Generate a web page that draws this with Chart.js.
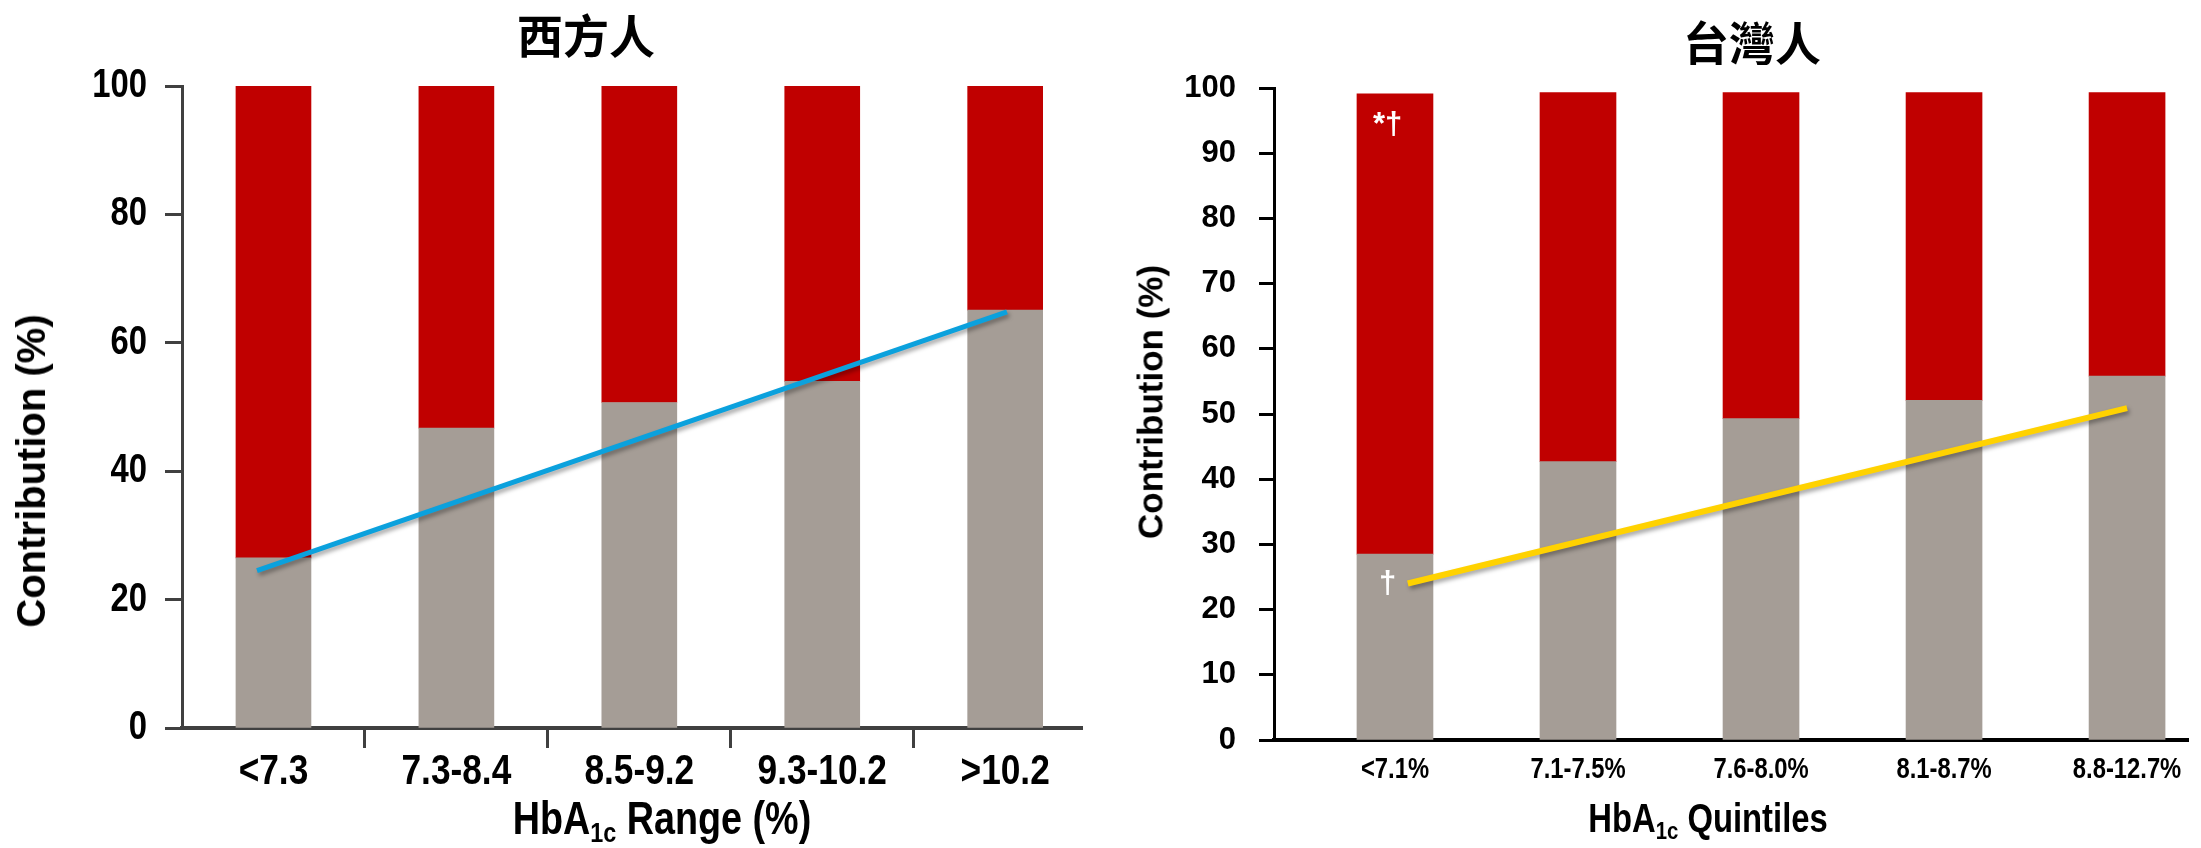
<!DOCTYPE html>
<html>
<head>
<meta charset="utf-8">
<script src="https://cdn.jsdelivr.net/npm/chart.js@4.4.0/dist/chart.umd.min.js"></script>
<style>
html,body{margin:0;padding:0;background:#fff;width:2201px;height:848px;overflow:hidden;}
#wrap{position:relative;width:2201px;height:848px;background:#fff;}
canvas{position:absolute;top:0;}
.t{position:absolute;white-space:nowrap;color:#000;transform:translate(-50%,-50%);line-height:1;}
.cjk{font-family:'Noto Sans CJK TC','Noto Sans CJK SC',sans-serif;font-weight:700;font-size:46px;}
.yt{font-family:'Liberation Sans',Arial,sans-serif;font-weight:700;transform:translate(-50%,-50%) rotate(-90deg);}
.xt{font-family:'Liberation Sans',Arial,sans-serif;font-weight:700;transform:translate(-50%,-50%) scaleX(0.82);}
.xt sub{font-size:0.62em;vertical-align:-0.28em;line-height:0;}
</style>
</head>
<body>
<div id="wrap">
  <canvas id="westChart" width="1100" height="848" style="left:0px"></canvas>
  <canvas id="twChart" width="1101" height="848" style="left:1100px"></canvas>
  <div class="t cjk" style="left:586px;top:33px">西方人</div>
  <div class="t cjk" style="left:1752px;top:40px">台灣人</div>
  <div class="t yt" style="left:31px;top:471px;font-size:40px">Contribution (%)</div>
  <div class="t yt" style="left:1150px;top:402px;font-size:35px">Contribution (%)</div>
  <div class="t xt" style="left:662px;top:818px;font-size:46px">HbA<sub>1c</sub> Range (%)</div>
  <div class="t xt" style="left:1708px;top:818px;font-size:40px">HbA<sub>1c</sub> Quintiles</div>
</div>
<script>
// ---------- data ----------
const westCategories = ['<7.3', '7.3-8.4', '8.5-9.2', '9.3-10.2', '>10.2'];
const westFasting = [26.5, 46.7, 50.7, 54.0, 65.1];        // grey segment
const westPostprandial = [73.5, 53.3, 49.3, 46.0, 34.9];   // red segment
const westTrendX = [-0.09, 4.01];
const westTrendY = [24.5, 64.8];
const westYTicks = [0, 20, 40, 60, 80, 100];

const twCategories = ['<7.1%', '7.1-7.5%', '7.6-8.0%', '8.1-8.7%', '8.8-12.7%'];
const twFasting = [28.5, 42.7, 49.3, 52.1, 55.8];
const twPostprandial = [70.6, 56.6, 50.0, 47.2, 43.5];
const twTrendX = [0.07, 4.0];
const twTrendY = [24.0, 50.9];
const twYTicks = [0, 10, 20, 30, 40, 50, 60, 70, 80, 90, 100];
const twMarkText = ['*\u2020', '\u2020'];
const twMarkX = [-0.04, -0.04];
const twMarkY = [94.3, 23.9];

// ---------- styles ----------
const RED = '#C00000';
const GREY = '#A59D96';
const SANS = "'Liberation Sans', Arial, sans-serif";

const pts = (xs, ys) => xs.map((x, i) => ({x: x, y: ys[i]}));
const idx = arr => arr.map((_, i) => i);

const shadowPlugin = {
  id: 'lineShadow',
  beforeDatasetDraw(chart, args) {
    if (chart.data.datasets[args.index].type === 'line') {
      const c = chart.ctx; c.save();
      c.shadowColor = 'rgba(0,0,0,0.35)'; c.shadowBlur = 4; c.shadowOffsetX = 2; c.shadowOffsetY = 3;
    }
  },
  afterDatasetDraw(chart, args) {
    if (chart.data.datasets[args.index].type === 'line') chart.ctx.restore();
  }
};

const marksPlugin = {
  id: 'marks',
  afterDatasetsDraw(chart, args, opts) {
    if (!opts || !opts.text) return;
    const {ctx, scales: {x, y}} = chart;
    ctx.save();
    ctx.fillStyle = '#fff';
    ctx.font = 'bold 31px ' + SANS;
    ctx.textAlign = 'center';
    ctx.textBaseline = 'middle';
    opts.text.forEach((t, i) => ctx.fillText(t, x.getPixelForValue(opts.x[i]), y.getPixelForValue(opts.y[i])));
    ctx.restore();
  }
};

// condensed tick labels, positioned through the chart's scales
const narrowLabels = {
  id: 'narrowLabels',
  afterDraw(chart, args, opts) {
    if (!opts || !opts.items) return;
    const ctx = chart.ctx;
    opts.items.forEach(it => {
      const s = chart.scales[it.axis];
      ctx.save();
      ctx.fillStyle = '#000';
      ctx.font = 'bold ' + it.size + 'px ' + SANS;
      ctx.textBaseline = 'middle';
      it.values.forEach((v, i) => {
        let px, py;
        if (it.axis === 'x') { px = s.getPixelForValue(v); py = s.top + it.offset; ctx.textAlign = 'center'; }
        else { px = s.right - it.offset; py = s.getPixelForValue(v); ctx.textAlign = 'right'; }
        ctx.save();
        ctx.translate(px, py);
        ctx.scale(it.sx, 1);
        ctx.fillText(String(it.labels[i]), 0, 0);
        ctx.restore();
      });
      ctx.restore();
    });
  }
};

function datasets(cats, fasting, post, trendX, trendY, lineColor, lineWidth, thickness) {
  const xs = idx(cats);
  return [
    {type: 'line', label: 'trend', data: pts(trendX, trendY), borderColor: lineColor, borderWidth: lineWidth,
     pointRadius: 0, fill: false, order: 0, stack: 'trend', borderCapStyle: 'butt'},
    {type: 'bar', label: 'fasting', data: pts(xs, fasting), backgroundColor: GREY, order: 1, stack: 'bars',
     barThickness: thickness},
    {type: 'bar', label: 'postprandial', data: pts(xs, post), backgroundColor: RED, order: 1, stack: 'bars',
     barThickness: thickness}
  ];
}

// ---------- West chart ----------
const westBoundaries = westCategories.slice(1).map((_, i) => i + 0.5);

new Chart(document.getElementById('westChart'), {
  data: {datasets: datasets(westCategories, westFasting, westPostprandial, westTrendX, westTrendY, '#0BA1DD', 5, 75)},
  plugins: [shadowPlugin, narrowLabels],
  options: {
    responsive: false, animation: false, devicePixelRatio: 1,
    layout: {padding: {left: 0, right: 18, top: 86, bottom: 0}},
    plugins: {
      legend: {display: false}, tooltip: {enabled: false}, title: {display: false},
      narrowLabels: {items: [
        {axis: 'x', values: idx(westCategories), labels: westCategories, size: 43, sx: 0.82, offset: 44},
        {axis: 'y', values: westYTicks, labels: westYTicks, size: 40, sx: 0.82, offset: 35}
      ]}
    },
    scales: {
      x: {
        type: 'linear', min: -0.5, max: 4.42, stacked: true, offset: false,
        afterBuildTicks: s => { s.ticks = westBoundaries.map(v => ({value: v})); },
        afterFit: s => { s.height = 120; },
        ticks: {display: false},
        grid: {display: true, offset: false, drawOnChartArea: false, drawTicks: true, tickLength: 20, tickWidth: 3, tickColor: '#404040'},
        border: {display: true, color: '#404040', width: 4}
      },
      y: {
        min: 0, max: 100, stacked: true,
        afterBuildTicks: s => { s.ticks = westYTicks.map(v => ({value: v})); },
        afterFit: s => { s.width = 182; },
        ticks: {display: false},
        grid: {display: true, drawOnChartArea: false, tickLength: 17, tickWidth: 3, tickColor: '#404040'},
        border: {display: true, color: '#404040', width: 3}
      }
    }
  }
});

// ---------- Taiwan chart ----------
new Chart(document.getElementById('twChart'), {
  data: {datasets: datasets(twCategories, twFasting, twPostprandial, twTrendX, twTrendY, '#FFD200', 6, 76)},
  plugins: [shadowPlugin, marksPlugin, narrowLabels],
  options: {
    responsive: false, animation: false, devicePixelRatio: 1,
    layout: {padding: {left: 0, right: 13, top: 88, bottom: 0}},
    plugins: {
      legend: {display: false}, tooltip: {enabled: false}, title: {display: false},
      marks: {text: twMarkText, x: twMarkX, y: twMarkY},
      narrowLabels: {items: [
        {axis: 'x', values: idx(twCategories), labels: twCategories, size: 29, sx: 0.82, offset: 30}
      ]}
    },
    scales: {
      x: {
        type: 'linear', min: -0.661, max: 4.333, stacked: true, offset: false,
        afterBuildTicks: s => { s.ticks = idx(twCategories).map(v => ({value: v})); },
        afterFit: s => { s.height = 108; },
        ticks: {display: false},
        grid: {display: false, offset: false, drawTicks: false},
        border: {display: true, color: '#000', width: 4}
      },
      y: {
        min: 0, max: 100, stacked: true,
        afterBuildTicks: s => { s.ticks = twYTicks.map(v => ({value: v})); },
        afterFit: s => { s.width = 174; },
        ticks: {padding: 23, color: '#000', font: {family: SANS, size: 31, weight: 'bold'}},
        grid: {display: true, drawOnChartArea: false, tickLength: 15, tickWidth: 3, tickColor: '#000'},
        border: {display: true, color: '#000', width: 3}
      }
    }
  }
});
</script>
</body>
</html>
